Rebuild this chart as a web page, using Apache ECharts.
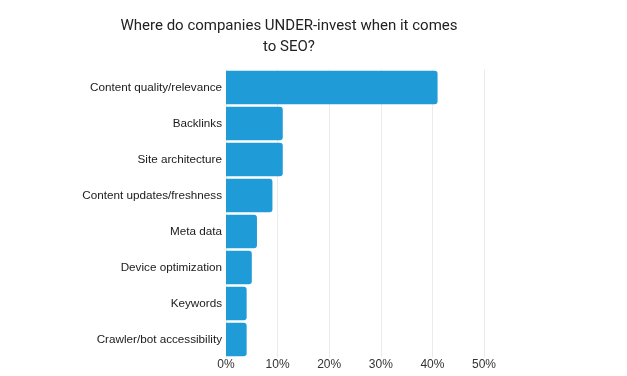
<!DOCTYPE html>
<html>
<head>
<meta charset="utf-8">
<script src="https://cdn.jsdelivr.net/npm/echarts@6/dist/echarts.min.js"></script>
<style>
  html, body { margin: 0; padding: 0; background: #fff; }
  #chart { width: 627px; height: 376px; }
</style>
</head>
<body>
<div id="chart"></div>
<script>
var categories = [
  'Content quality/relevance',
  'Backlinks',
  'Site architecture',
  'Content updates/freshness',
  'Meta data',
  'Device optimization',
  'Keywords',
  'Crawler/bot accessibility'
];
var shares = [41, 11, 11, 9, 6, 5, 4, 4];
var tickValues = [0, 10, 20, 30, 40, 50];

var chart = echarts.init(document.getElementById('chart'));
chart.setOption({
  animation: false,
  title: {
    text: 'Where do companies UNDER-invest when it comes\nto SEO?',
    left: 284,
    top: 11,
    textAlign: 'center',
    textStyle: {
      fontFamily: 'Roboto',
      fontSize: 15,
      fontWeight: 'normal',
      color: '#222',
      lineHeight: 21
    }
  },
  grid: {
    left: 226,
    right: 143,
    top: 69.5,
    bottom: 18.5,
    containLabel: false
  },
  xAxis: {
    type: 'value',
    min: tickValues[0],
    max: tickValues[tickValues.length - 1],
    interval: 10,
    axisLine: { show: false },
    axisTick: { show: false },
    splitLine: { lineStyle: { color: '#ebebeb', width: 1 } },
    axisLabel: {
      formatter: '{value}%',
      fontFamily: 'Liberation Sans',
      fontSize: 12,
      color: '#333',
      margin: 1
    }
  },
  yAxis: {
    type: 'category',
    data: categories,
    inverse: true,
    axisLine: { show: false },
    axisTick: { show: false },
    axisLabel: {
      fontFamily: 'Liberation Sans',
      fontSize: 11.7,
      color: '#1a1a1a',
      margin: 4
    }
  },
  series: [{
    type: 'bar',
    data: shares,
    barCategoryGap: '7.5%',
    itemStyle: {
      color: '#1f9bd7',
      borderRadius: [0, 3, 3, 0]
    }
  }]
});
</script>
</body>
</html>
